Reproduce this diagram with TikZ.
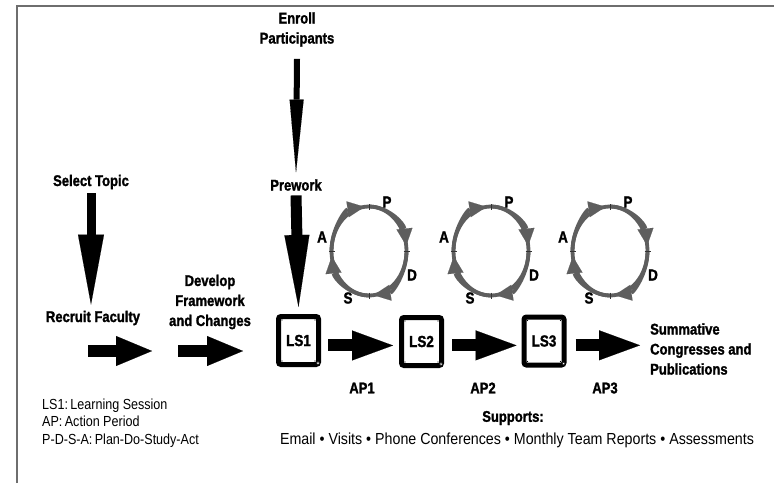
\documentclass[tikz,border=0pt]{standalone}
\usepackage{fontspec}
\setmainfont{Liberation Sans}
\newfontfamily\condfont[FakeStretch=0.84, BoldFeatures={FakeBold=1.5}]{Liberation Sans}
\newfontfamily\narrowfont[FakeStretch=0.86]{Liberation Sans}
\newfontfamily\listfont[FakeStretch=0.89]{Liberation Sans}
\usetikzlibrary{arrows.meta,calc}

\definecolor{ringgray}{HTML}{5E5E5E}
\definecolor{framegray}{HTML}{6E6E6E}

\tikzset{
  heading/.style={font=\condfont\bfseries\fontsize{15.5}{20}\selectfont, inner sep=0pt, align=center},
  legendtext/.style={font=\narrowfont\fontsize{14.6}{17.5}\selectfont, inner sep=0pt, align=left},
  supporttext/.style={font=\listfont\fontsize{16}{17}\selectfont, inner sep=0pt},
  pdsalabel/.style={font=\condfont\bfseries\fontsize{16}{16}\selectfont, inner sep=0pt},
  lsbox/.style={draw=black, fill=white, line width=5pt, rounded corners=2.5pt,
    minimum width=40pt, minimum height=48pt, inner sep=0pt,
    font=\condfont\bfseries\fontsize{16}{16}\selectfont},
  bigarrow/.style n args={3}{line width=#1,
    -{Triangle[length=#2, width=#3, line width=0.1pt]}},
  ringline/.style={draw=ringgray, line width=3.8pt},
  ringarrow/.style={ringline, -{Triangle[length=17pt, width=16pt, line width=0.1pt]}},
  ringtick/.style={draw=black!80, line width=0.8pt},
}

\begin{document}
\begin{tikzpicture}[x=1pt, y=-1pt]
  \useasboundingbox (0,0) rectangle (774,483);
  \fill[white] (0,0) rectangle (774,483);

  % page frame
  \draw[framegray, line width=1.1pt] (17,483) -- (17,6) -- (774,6);

  % headings
  \node[heading] (enroll) at (297,29.5) {Enroll\\Participants};
  \node[heading] (prework) at (296,185) {Prework};
  \node[heading] (select) at (91,182) {Select Topic};
  \node[heading] (recruit) at (93,318) {Recruit Faculty};
  \node[heading] (develop) at (210,302) {Develop\\Framework\\and Changes};
  \node[heading, align=left, anchor=west] (summ) at (650,349)
    {Summative\\Congresses and\\Publications};

  % learning sessions
  \node[lsbox] (LS1) at (298.5,340.5) {LS1};
  \node[lsbox] (LS2) at (421.5,341.5) {LS2};
  \node[lsbox] (LS3) at (544,341) {LS3};
  \foreach \b in {LS1,LS2,LS3}{
    \fill ($(\b.north west)+(6,6)$) circle (0.7);
    \fill ($(\b.north east)+(-6,6)$) circle (0.7);
    \fill ($(\b.south west)+(6,-6)$) circle (0.7);
    \fill ($(\b.south east)+(-6,-6)$) circle (0.7);
    \filldraw[fill=white, draw=black, line width=0.5pt]
      ($(\b.south east)+(-3,-4)$) circle (1.6);
  }

  % action periods
  \node[heading] (ap1) at (362,388) {AP1};
  \node[heading] (ap2) at (483,388) {AP2};
  \node[heading] (ap3) at (605,388) {AP3};

  % vertical arrows
  \draw[bigarrow={6pt}{73pt}{14pt}]
    ($(enroll.south)+(0,12)$) -- ($(prework.north)+(0,-6.5)$);
  \draw[bigarrow={11pt}{72pt}{25pt}]
    ($(prework.south)+(0,4.5)$) -- ($(LS1.north)+(0,-7)$);
  \draw[bigarrow={9pt}{70pt}{26pt}]
    ($(select.south)+(0,4)$) -- ($(select.south |- recruit.north)+(0,-6)$);

  % horizontal arrows
  \coordinate (rfA) at (88,351);
  \coordinate (rfB) at (152,351);
  \coordinate (dvA) at (178,351);
  \coordinate (dvB) at (243,351);
  \draw[bigarrow={12pt}{36pt}{30pt}] (rfA) -- (rfB);
  \draw[bigarrow={12pt}{36pt}{30pt}] (dvA) -- (dvB);
  \draw[bigarrow={12pt}{41pt}{30pt}]
    ($(LS1.east |- ap1.north)+(7,-37)$) -- ($(LS2.west |- ap1.north)+(-6,-37)$);
  \draw[bigarrow={12pt}{41pt}{30pt}]
    ($(LS2.east |- ap2.north)+(8,-37)$) -- ($(LS3.west |- ap2.north)+(-5,-37)$);
  \draw[bigarrow={12pt}{41pt}{30pt}]
    ($(LS3.east |- ap3.north)+(9,-37)$) -- ($(summ.west |- ap3.north)+(-10,-37)$);

  % Plan-Do-Study-Act cycles
  \foreach \cx/\n in {369/1, 491/2, 610/3}{
    \coordinate (c\n) at (\cx,251);
    \draw[ringline] (c\n) ellipse [x radius=37.5, y radius=44.5];
    \foreach \s in {180,270,0,90}{
      \draw[ringarrow] ($(c\n)+(\s:37.5 and 44.5)$)
        arc[start angle=\s, end angle=\s+83, x radius=37.5, y radius=44.5];
      \draw[ringtick] ($(c\n)+(\s:34.5 and 41.5)$) -- ($(c\n)+(\s:40.5 and 47.5)$);
    }
    \node[pdsalabel] (p\n) at ($(c\n)+(18,-49)$) {P};
    \node[pdsalabel] (d\n) at ($(c\n)+(43,24)$) {D};
    \node[pdsalabel] (s\n) at ($(c\n)+(-21,47)$) {S};
    \node[pdsalabel] (a\n) at ($(c\n)+(-47,-14)$) {A};
  }

  % legend
  \node[legendtext, anchor=west] (legend) at (42,423)
    {LS1:\,Learning Session\\AP:\,Action Period\\P-D-S-A:\,Plan-Do-Study-Act};

  % supports
  \node[heading] (supports) at (513,418) {Supports:};
  \node[supporttext] (supportlist) at (517,440)
    {Email \textbullet\ Visits \textbullet\ Phone Conferences \textbullet\ Monthly Team Reports \textbullet\ Assessments};
\end{tikzpicture}
\end{document}
